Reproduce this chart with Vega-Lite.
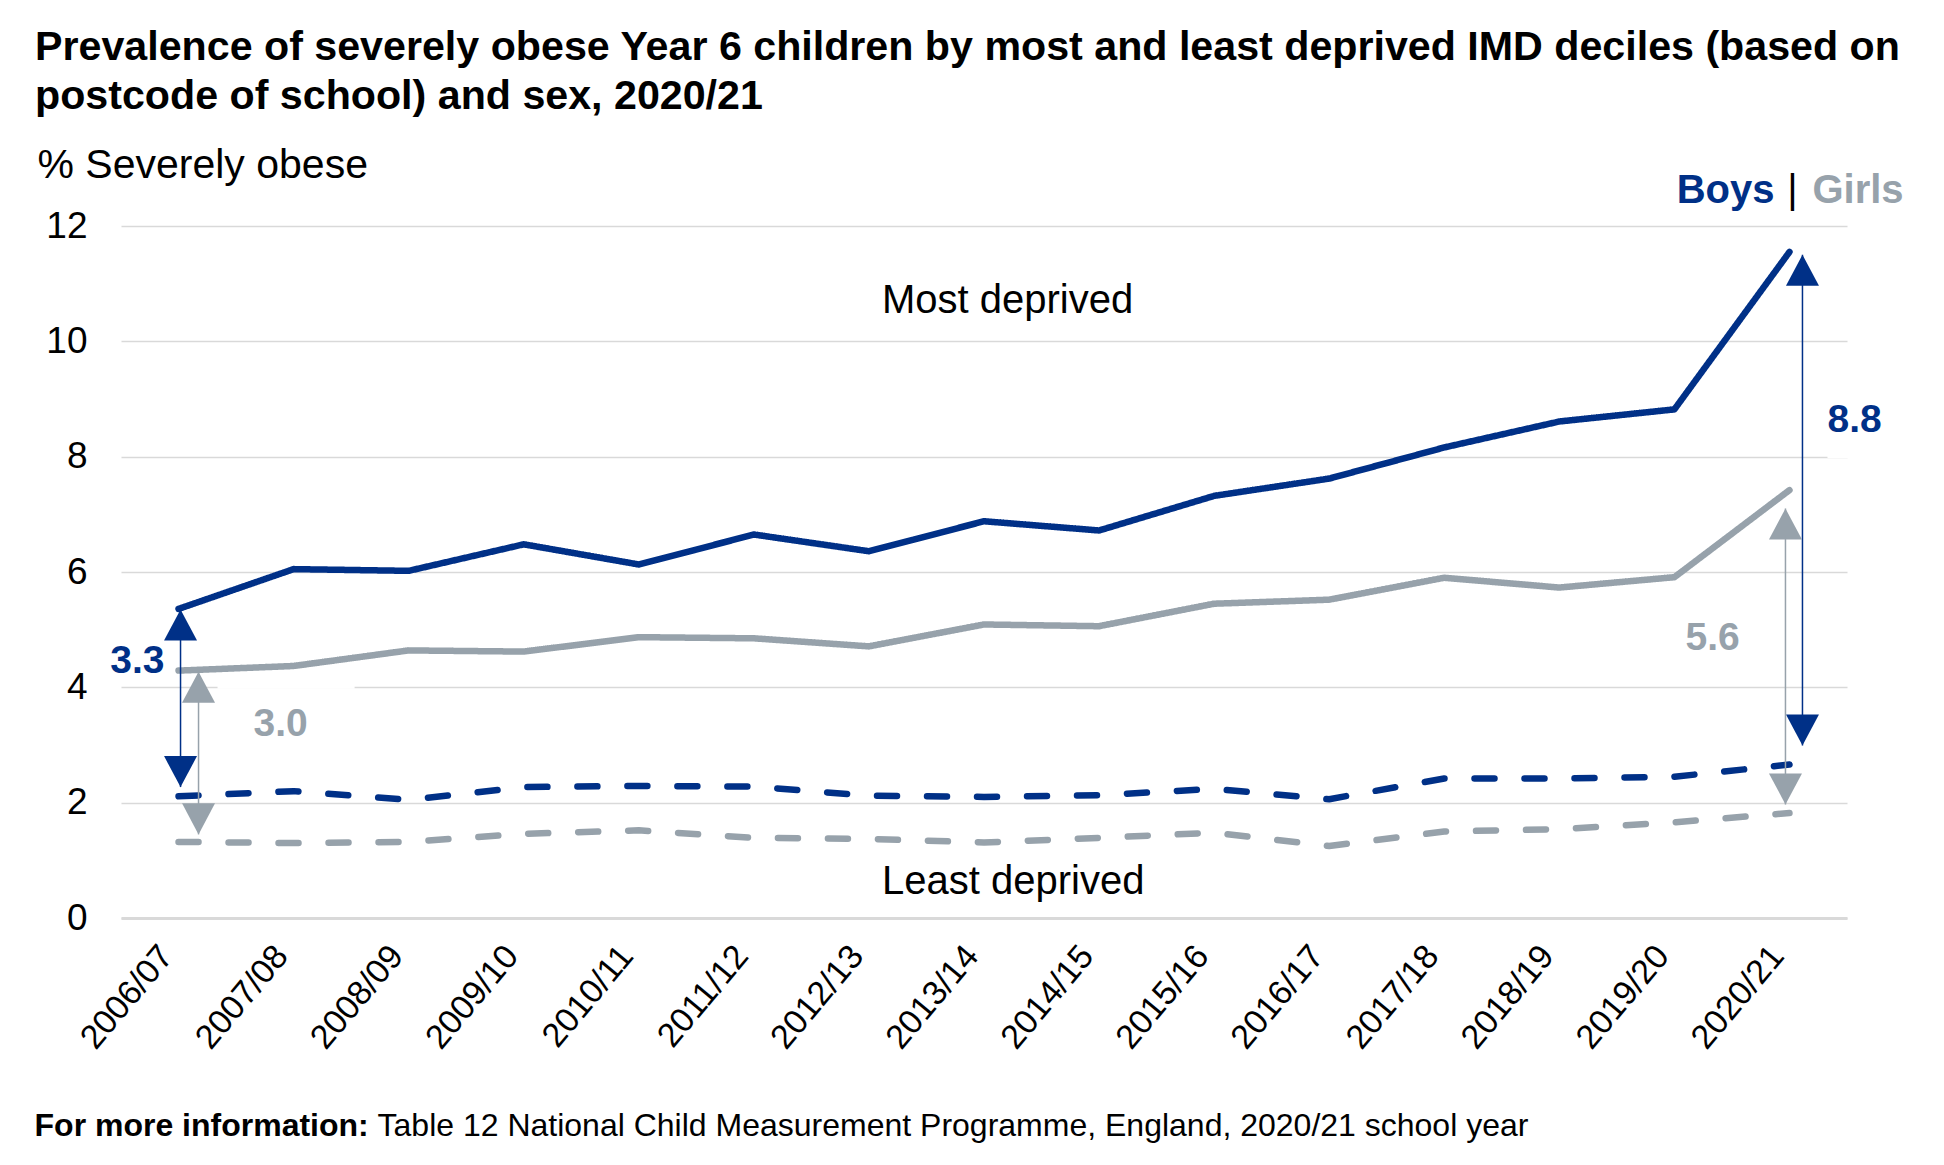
{
  "$schema": "https://vega.github.io/schema/vega-lite/v6.json",
  "width": 1726,
  "height": 692,
  "autosize": {"type": "none"},
  "padding": {"left": 121, "top": 226, "right": 97, "bottom": 247},
  "background": "#ffffff",
  "title": {
    "text": ["Prevalence of severely obese Year 6 children by most and least deprived IMD deciles (based on", "postcode of school) and sex, 2020/21"],
    "anchor": "start", "frame": "group", "dx": -86, "offset": 27,
    "fontSize": 41.2, "font": "Liberation Sans", "fontWeight": "bold", "color": "#000000", "lineHeight": 49
  },
  "config": {"view": {"stroke": null}, "font": "Liberation Sans"},
  "datasets": {
    "series": [
      {"year": "2006/07", "sex": "Boys", "group": "Most deprived", "value": 5.36},
      {"year": "2007/08", "sex": "Boys", "group": "Most deprived", "value": 6.05},
      {"year": "2008/09", "sex": "Boys", "group": "Most deprived", "value": 6.02},
      {"year": "2009/10", "sex": "Boys", "group": "Most deprived", "value": 6.48},
      {"year": "2010/11", "sex": "Boys", "group": "Most deprived", "value": 6.13},
      {"year": "2011/12", "sex": "Boys", "group": "Most deprived", "value": 6.65},
      {"year": "2012/13", "sex": "Boys", "group": "Most deprived", "value": 6.36},
      {"year": "2013/14", "sex": "Boys", "group": "Most deprived", "value": 6.88},
      {"year": "2014/15", "sex": "Boys", "group": "Most deprived", "value": 6.72},
      {"year": "2015/16", "sex": "Boys", "group": "Most deprived", "value": 7.32},
      {"year": "2016/17", "sex": "Boys", "group": "Most deprived", "value": 7.62},
      {"year": "2017/18", "sex": "Boys", "group": "Most deprived", "value": 8.16},
      {"year": "2018/19", "sex": "Boys", "group": "Most deprived", "value": 8.61},
      {"year": "2019/20", "sex": "Boys", "group": "Most deprived", "value": 8.82},
      {"year": "2020/21", "sex": "Boys", "group": "Most deprived", "value": 11.55},
      {"year": "2006/07", "sex": "Boys", "group": "Least deprived", "value": 2.11},
      {"year": "2007/08", "sex": "Boys", "group": "Least deprived", "value": 2.2},
      {"year": "2008/09", "sex": "Boys", "group": "Least deprived", "value": 2.05},
      {"year": "2009/10", "sex": "Boys", "group": "Least deprived", "value": 2.27},
      {"year": "2010/11", "sex": "Boys", "group": "Least deprived", "value": 2.29},
      {"year": "2011/12", "sex": "Boys", "group": "Least deprived", "value": 2.28},
      {"year": "2012/13", "sex": "Boys", "group": "Least deprived", "value": 2.12},
      {"year": "2013/14", "sex": "Boys", "group": "Least deprived", "value": 2.1},
      {"year": "2014/15", "sex": "Boys", "group": "Least deprived", "value": 2.13},
      {"year": "2015/16", "sex": "Boys", "group": "Least deprived", "value": 2.24},
      {"year": "2016/17", "sex": "Boys", "group": "Least deprived", "value": 2.06},
      {"year": "2017/18", "sex": "Boys", "group": "Least deprived", "value": 2.42},
      {"year": "2018/19", "sex": "Boys", "group": "Least deprived", "value": 2.42},
      {"year": "2019/20", "sex": "Boys", "group": "Least deprived", "value": 2.45},
      {"year": "2020/21", "sex": "Boys", "group": "Least deprived", "value": 2.66},
      {"year": "2006/07", "sex": "Girls", "group": "Most deprived", "value": 4.29},
      {"year": "2007/08", "sex": "Girls", "group": "Most deprived", "value": 4.37},
      {"year": "2008/09", "sex": "Girls", "group": "Most deprived", "value": 4.64},
      {"year": "2009/10", "sex": "Girls", "group": "Most deprived", "value": 4.62},
      {"year": "2010/11", "sex": "Girls", "group": "Most deprived", "value": 4.87},
      {"year": "2011/12", "sex": "Girls", "group": "Most deprived", "value": 4.85},
      {"year": "2012/13", "sex": "Girls", "group": "Most deprived", "value": 4.71},
      {"year": "2013/14", "sex": "Girls", "group": "Most deprived", "value": 5.09},
      {"year": "2014/15", "sex": "Girls", "group": "Most deprived", "value": 5.06},
      {"year": "2015/16", "sex": "Girls", "group": "Most deprived", "value": 5.45},
      {"year": "2016/17", "sex": "Girls", "group": "Most deprived", "value": 5.52},
      {"year": "2017/18", "sex": "Girls", "group": "Most deprived", "value": 5.9},
      {"year": "2018/19", "sex": "Girls", "group": "Most deprived", "value": 5.73},
      {"year": "2019/20", "sex": "Girls", "group": "Most deprived", "value": 5.91},
      {"year": "2020/21", "sex": "Girls", "group": "Most deprived", "value": 7.42},
      {"year": "2006/07", "sex": "Girls", "group": "Least deprived", "value": 1.32},
      {"year": "2007/08", "sex": "Girls", "group": "Least deprived", "value": 1.3},
      {"year": "2008/09", "sex": "Girls", "group": "Least deprived", "value": 1.32},
      {"year": "2009/10", "sex": "Girls", "group": "Least deprived", "value": 1.46},
      {"year": "2010/11", "sex": "Girls", "group": "Least deprived", "value": 1.52},
      {"year": "2011/12", "sex": "Girls", "group": "Least deprived", "value": 1.39},
      {"year": "2012/13", "sex": "Girls", "group": "Least deprived", "value": 1.37},
      {"year": "2013/14", "sex": "Girls", "group": "Least deprived", "value": 1.31},
      {"year": "2014/15", "sex": "Girls", "group": "Least deprived", "value": 1.39},
      {"year": "2015/16", "sex": "Girls", "group": "Least deprived", "value": 1.48},
      {"year": "2016/17", "sex": "Girls", "group": "Least deprived", "value": 1.25},
      {"year": "2017/18", "sex": "Girls", "group": "Least deprived", "value": 1.5},
      {"year": "2018/19", "sex": "Girls", "group": "Least deprived", "value": 1.54},
      {"year": "2019/20", "sex": "Girls", "group": "Least deprived", "value": 1.66},
      {"year": "2020/21", "sex": "Girls", "group": "Least deprived", "value": 1.82}
    ],
    "arrows": [
      {"arrow": "b1", "year": "2006/07", "sex": "Boys", "top": 5.35, "bottom": 2.27},
      {"arrow": "g1", "year": "2006/07", "sex": "Girls", "top": 4.27, "bottom": 1.45},
      {"arrow": "b2", "year": "2020/21", "sex": "Boys", "top": 11.5, "bottom": 2.99},
      {"arrow": "g2", "year": "2020/21", "sex": "Girls", "top": 7.1, "bottom": 1.97}
    ],
    "gaps": [
      {"id": "b1", "year": "2006/07", "sex": "Boys", "text": "3.3", "value": 4.24},
      {"id": "g1", "year": "2006/07", "sex": "Girls", "text": "3.0", "value": 3.15},
      {"id": "b2", "year": "2020/21", "sex": "Boys", "text": "8.8", "value": 8.43},
      {"id": "g2", "year": "2020/21", "sex": "Girls", "text": "5.6", "value": 4.64}
    ],
    "masks": [
      {"id": "m1", "year": "2006/07", "year2": "2007/08", "value": 4},
      {"id": "m2", "year": "2020/21", "year2": "2020/21", "value": 8}
    ],
    "notes": [
      {"year": "2013/14", "text": "Most deprived", "value": 10.49},
      {"year": "2013/14", "text": "Least deprived", "value": 0.42}
    ],
    "legend": [
      {"id": "boys", "year": "2020/21", "sex": "Boys", "text": "Boys", "value": 12.4},
      {"id": "bar", "year": "2020/21", "sex": "Bar", "text": "|", "value": 12.4},
      {"id": "girls", "year": "2020/21", "sex": "Girls", "text": "Girls", "value": 12.4}
    ],
    "footer": [
      {"id": "bold", "year": "2006/07", "text": "For more information:", "value": -3.78},
      {"id": "plain", "year": "2006/07", "text": "Table 12 National Child Measurement Programme, England, 2020/21 school year", "value": -3.78}
    ]
  },
  "layer": [
    {
      "data": {"name": "series"},
      "mark": {"type": "line", "strokeWidth": 6.5, "strokeCap": "round", "strokeJoin": "round"},
      "encoding": {
        "x": {
          "field": "year", "type": "ordinal",
          "scale": {"type": "point", "padding": 0.5, "domain": ["2006/07","2007/08","2008/09","2009/10","2010/11","2011/12","2012/13","2013/14","2014/15","2015/16","2016/17","2017/18","2018/19","2019/20","2020/21"]},
          "axis": {"title": null, "labelAngle": -50, "labelFontSize": 34, "labelColor": "#000000", "labelFont": "Liberation Sans", "ticks": false, "domainColor": "#D9D9D9", "domainWidth": 3, "grid": false, "labelPadding": 32, "labelOffset": -12}
        },
        "y": {
          "field": "value", "type": "quantitative",
          "scale": {"domain": [0, 12], "nice": false},
          "axis": {"title": "% Severely obese", "titleAngle": 0, "titleAlign": "left", "titleBaseline": "alphabetic", "titleX": -84, "titleY": -49, "titleFontSize": 41, "titleFontWeight": "normal", "titleColor": "#000000", "titleFont": "Liberation Sans", "values": [0, 2, 4, 6, 8, 10, 12], "format": "d", "labelFontSize": 37, "labelColor": "#000000", "labelFont": "Liberation Sans", "labelPadding": 34, "ticks": false, "domain": false, "grid": true, "gridColor": "#D9D9D9", "gridWidth": 1.3}
        },
        "color": {"field": "sex", "type": "nominal", "scale": {"domain": ["Boys", "Girls", "Bar"], "range": ["#003087", "#97A2AB", "#000000"]}, "legend": null},
        "strokeDash": {"field": "group", "type": "nominal", "scale": {"domain": ["Most deprived", "Least deprived"], "range": [[1, 0], [20, 30]]}, "legend": null}
      }
    },
    {
      "data": {"name": "masks"},
      "transform": [{"filter": "datum.id === 'm1'"}],
      "mark": {"type": "rule", "color": "#ffffff", "strokeWidth": 3, "xOffset": 39, "x2Offset": 61},
      "encoding": {"x": {"field": "year", "type": "ordinal"}, "x2": {"field": "year2"}, "y": {"field": "value", "type": "quantitative"}}
    },
    {
      "data": {"name": "masks"},
      "transform": [{"filter": "datum.id === 'm2'"}],
      "mark": {"type": "rule", "color": "#ffffff", "strokeWidth": 3, "xOffset": 38, "x2Offset": 62},
      "encoding": {"x": {"field": "year", "type": "ordinal"}, "x2": {"field": "year2"}, "y": {"field": "value", "type": "quantitative"}}
    },
    {
      "data": {"name": "arrows"},
      "transform": [{"filter": "datum.arrow === 'b1'"}],
      "layer": [
        {"mark": {"type": "rule", "strokeWidth": 1.5, "xOffset": 2}, "encoding": {"x": {"field": "year", "type": "ordinal"}, "y": {"field": "top", "type": "quantitative"}, "y2": {"field": "bottom"}, "color": {"field": "sex", "type": "nominal", "legend": null}}},
        {"mark": {"type": "point", "shape": "M0,0L0.5,0.94L-0.5,0.94Z", "size": 4356, "filled": true, "opacity": 1, "xOffset": 2}, "encoding": {"x": {"field": "year", "type": "ordinal"}, "y": {"field": "top", "type": "quantitative"}, "color": {"field": "sex", "type": "nominal", "legend": null}}},
        {"mark": {"type": "point", "shape": "M0,0L0.5,-0.94L-0.5,-0.94Z", "size": 4356, "filled": true, "opacity": 1, "xOffset": 2}, "encoding": {"x": {"field": "year", "type": "ordinal"}, "y": {"field": "bottom", "type": "quantitative"}, "color": {"field": "sex", "type": "nominal", "legend": null}}}
      ]
    },
    {
      "data": {"name": "arrows"},
      "transform": [{"filter": "datum.arrow === 'g1'"}],
      "layer": [
        {"mark": {"type": "rule", "strokeWidth": 1.5, "xOffset": 20}, "encoding": {"x": {"field": "year", "type": "ordinal"}, "y": {"field": "top", "type": "quantitative"}, "y2": {"field": "bottom"}, "color": {"field": "sex", "type": "nominal", "legend": null}}},
        {"mark": {"type": "point", "shape": "M0,0L0.5,0.94L-0.5,0.94Z", "size": 4356, "filled": true, "opacity": 1, "xOffset": 20}, "encoding": {"x": {"field": "year", "type": "ordinal"}, "y": {"field": "top", "type": "quantitative"}, "color": {"field": "sex", "type": "nominal", "legend": null}}},
        {"mark": {"type": "point", "shape": "M0,0L0.5,-0.94L-0.5,-0.94Z", "size": 4356, "filled": true, "opacity": 1, "xOffset": 20}, "encoding": {"x": {"field": "year", "type": "ordinal"}, "y": {"field": "bottom", "type": "quantitative"}, "color": {"field": "sex", "type": "nominal", "legend": null}}}
      ]
    },
    {
      "data": {"name": "arrows"},
      "transform": [{"filter": "datum.arrow === 'b2'"}],
      "layer": [
        {"mark": {"type": "rule", "strokeWidth": 1.5, "xOffset": 13}, "encoding": {"x": {"field": "year", "type": "ordinal"}, "y": {"field": "top", "type": "quantitative"}, "y2": {"field": "bottom"}, "color": {"field": "sex", "type": "nominal", "legend": null}}},
        {"mark": {"type": "point", "shape": "M0,0L0.5,0.94L-0.5,0.94Z", "size": 4356, "filled": true, "opacity": 1, "xOffset": 13}, "encoding": {"x": {"field": "year", "type": "ordinal"}, "y": {"field": "top", "type": "quantitative"}, "color": {"field": "sex", "type": "nominal", "legend": null}}},
        {"mark": {"type": "point", "shape": "M0,0L0.5,-0.94L-0.5,-0.94Z", "size": 4356, "filled": true, "opacity": 1, "xOffset": 13}, "encoding": {"x": {"field": "year", "type": "ordinal"}, "y": {"field": "bottom", "type": "quantitative"}, "color": {"field": "sex", "type": "nominal", "legend": null}}}
      ]
    },
    {
      "data": {"name": "arrows"},
      "transform": [{"filter": "datum.arrow === 'g2'"}],
      "layer": [
        {"mark": {"type": "rule", "strokeWidth": 1.5, "xOffset": -4}, "encoding": {"x": {"field": "year", "type": "ordinal"}, "y": {"field": "top", "type": "quantitative"}, "y2": {"field": "bottom"}, "color": {"field": "sex", "type": "nominal", "legend": null}}},
        {"mark": {"type": "point", "shape": "M0,0L0.5,0.94L-0.5,0.94Z", "size": 4356, "filled": true, "opacity": 1, "xOffset": -4}, "encoding": {"x": {"field": "year", "type": "ordinal"}, "y": {"field": "top", "type": "quantitative"}, "color": {"field": "sex", "type": "nominal", "legend": null}}},
        {"mark": {"type": "point", "shape": "M0,0L0.5,-0.94L-0.5,-0.94Z", "size": 4356, "filled": true, "opacity": 1, "xOffset": -4}, "encoding": {"x": {"field": "year", "type": "ordinal"}, "y": {"field": "bottom", "type": "quantitative"}, "color": {"field": "sex", "type": "nominal", "legend": null}}}
      ]
    },
    {
      "data": {"name": "gaps"},
      "transform": [{"filter": "datum.id === 'b1'"}],
      "mark": {"type": "text", "align": "right", "baseline": "alphabetic", "dx": -14, "fontSize": 39, "fontWeight": "bold", "font": "Liberation Sans"},
      "encoding": {"x": {"field": "year", "type": "ordinal"}, "y": {"field": "value", "type": "quantitative"}, "text": {"field": "text"}, "color": {"field": "sex", "type": "nominal", "legend": null}}
    },
    {
      "data": {"name": "gaps"},
      "transform": [{"filter": "datum.id === 'g1'"}],
      "mark": {"type": "text", "align": "left", "baseline": "alphabetic", "dx": 75, "fontSize": 39, "fontWeight": "bold", "font": "Liberation Sans"},
      "encoding": {"x": {"field": "year", "type": "ordinal"}, "y": {"field": "value", "type": "quantitative"}, "text": {"field": "text"}, "color": {"field": "sex", "type": "nominal", "legend": null}}
    },
    {
      "data": {"name": "gaps"},
      "transform": [{"filter": "datum.id === 'b2'"}],
      "mark": {"type": "text", "align": "left", "baseline": "alphabetic", "dx": 38, "fontSize": 39, "fontWeight": "bold", "font": "Liberation Sans"},
      "encoding": {"x": {"field": "year", "type": "ordinal"}, "y": {"field": "value", "type": "quantitative"}, "text": {"field": "text"}, "color": {"field": "sex", "type": "nominal", "legend": null}}
    },
    {
      "data": {"name": "gaps"},
      "transform": [{"filter": "datum.id === 'g2'"}],
      "mark": {"type": "text", "align": "left", "baseline": "alphabetic", "dx": -104, "fontSize": 39, "fontWeight": "bold", "font": "Liberation Sans"},
      "encoding": {"x": {"field": "year", "type": "ordinal"}, "y": {"field": "value", "type": "quantitative"}, "text": {"field": "text"}, "color": {"field": "sex", "type": "nominal", "legend": null}}
    },
    {
      "data": {"name": "notes"},
      "mark": {"type": "text", "align": "left", "baseline": "alphabetic", "dx": -102, "fontSize": 40, "font": "Liberation Sans", "color": "#000000"},
      "encoding": {"x": {"field": "year", "type": "ordinal"}, "y": {"field": "value", "type": "quantitative"}, "text": {"field": "text"}}
    },
    {
      "data": {"name": "legend"},
      "transform": [{"filter": "datum.id === 'boys'"}],
      "mark": {"type": "text", "align": "right", "baseline": "alphabetic", "dx": -15, "fontSize": 40, "fontWeight": "bold", "font": "Liberation Sans"},
      "encoding": {"x": {"field": "year", "type": "ordinal"}, "y": {"field": "value", "type": "quantitative"}, "text": {"field": "text"}, "color": {"field": "sex", "type": "nominal", "legend": null}}
    },
    {
      "data": {"name": "legend"},
      "transform": [{"filter": "datum.id === 'bar'"}],
      "mark": {"type": "text", "align": "center", "baseline": "alphabetic", "dx": 3, "fontSize": 40, "font": "Liberation Sans"},
      "encoding": {"x": {"field": "year", "type": "ordinal"}, "y": {"field": "value", "type": "quantitative"}, "text": {"field": "text"}, "color": {"field": "sex", "type": "nominal", "legend": null}}
    },
    {
      "data": {"name": "legend"},
      "transform": [{"filter": "datum.id === 'girls'"}],
      "mark": {"type": "text", "align": "left", "baseline": "alphabetic", "dx": 23, "fontSize": 40, "fontWeight": "bold", "font": "Liberation Sans"},
      "encoding": {"x": {"field": "year", "type": "ordinal"}, "y": {"field": "value", "type": "quantitative"}, "text": {"field": "text"}, "color": {"field": "sex", "type": "nominal", "legend": null}}
    },
    {
      "data": {"name": "footer"},
      "transform": [{"filter": "datum.id === 'bold'"}],
      "mark": {"type": "text", "align": "left", "baseline": "alphabetic", "dx": -144, "fontSize": 32, "fontWeight": "bold", "font": "Liberation Sans", "color": "#000000"},
      "encoding": {"x": {"field": "year", "type": "ordinal"}, "y": {"field": "value", "type": "quantitative"}, "text": {"field": "text"}}
    },
    {
      "data": {"name": "footer"},
      "transform": [{"filter": "datum.id === 'plain'"}],
      "mark": {"type": "text", "align": "left", "baseline": "alphabetic", "dx": 199, "fontSize": 32, "font": "Liberation Sans", "color": "#000000"},
      "encoding": {"x": {"field": "year", "type": "ordinal"}, "y": {"field": "value", "type": "quantitative"}, "text": {"field": "text"}}
    }
  ]
}
